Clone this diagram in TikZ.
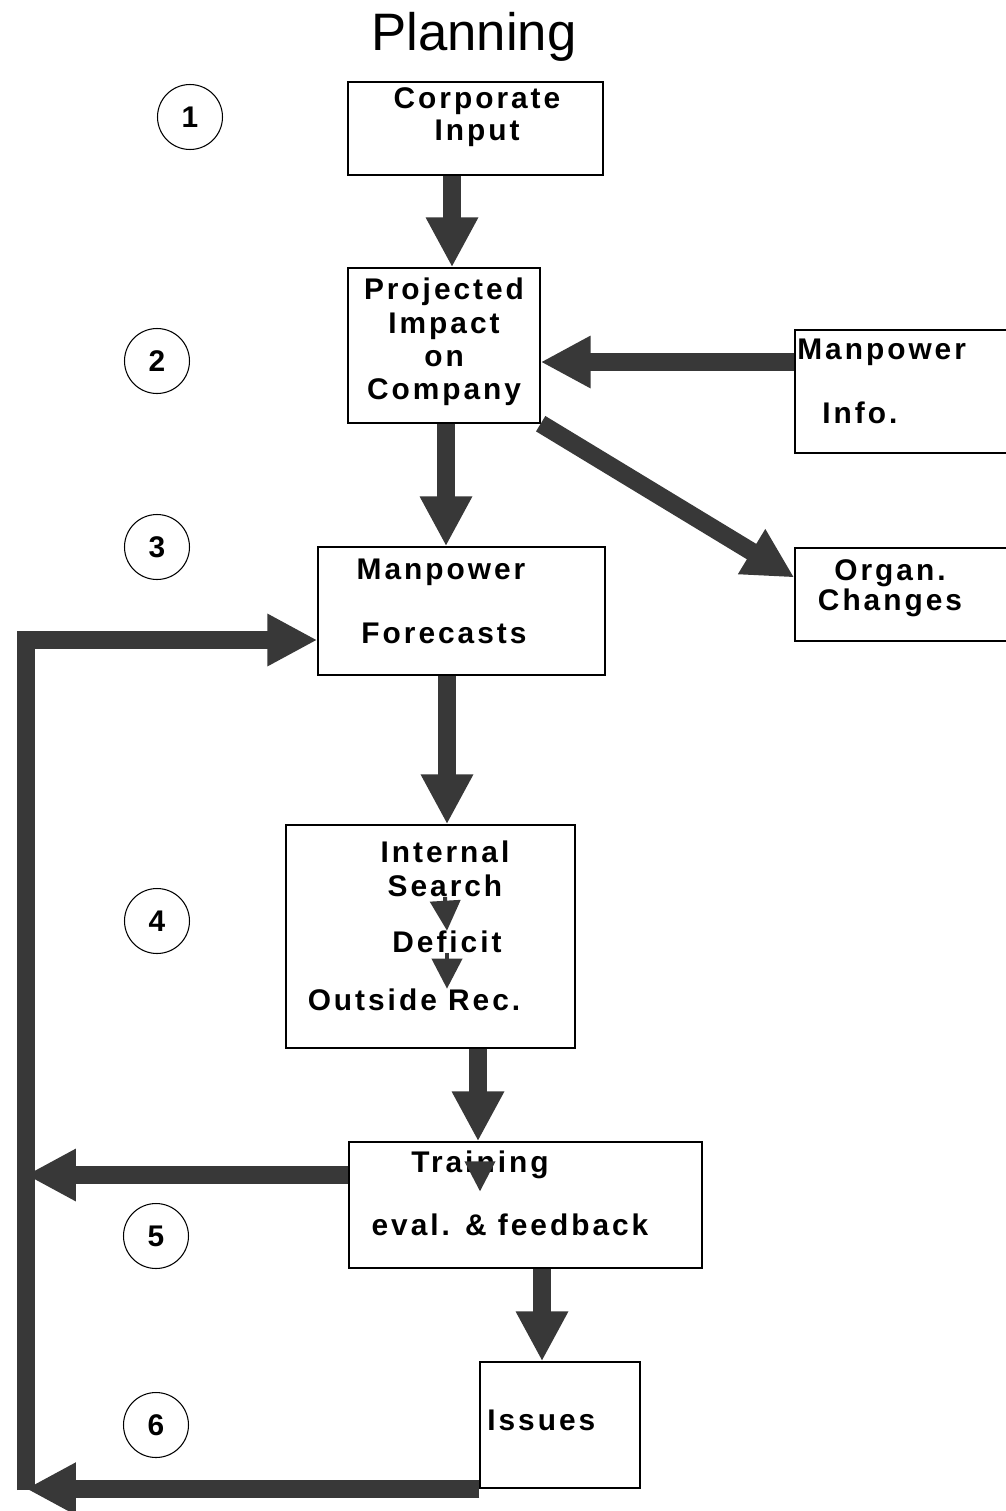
\documentclass[tikz,border=0pt]{standalone}
\usepackage{fontspec}
\setmainfont{Liberation Sans}
\newfontfamily\boxfont[LetterSpace=10]{Liberation Sans}
\usetikzlibrary{arrows.meta}

\begin{document}
\begin{tikzpicture}[x=0.02cm, y=-0.02cm,
  box/.style={draw, line width=0.8pt, rectangle, inner sep=0pt},
  txt/.style={font=\boxfont\bfseries\fontsize{17}{19}\selectfont, inner sep=0pt, align=center},
  num/.style={draw, circle, line width=0.6pt, minimum size=1.3cm, inner sep=0pt, font=\bfseries\fontsize{17}{17}\selectfont},
  fat/.style={line width=0.36cm, draw=black!78, -{Triangle[length=1cm, width=0.98cm]}},
  tip/.style={line width=0.08cm, draw=black!78, -{Triangle[length=0.6cm, width=0.6cm]}}]
\useasboundingbox (0,0) rectangle (1006,1511);
\clip (0,0) rectangle (1006,1511);
\fill[white] (0,0) rectangle (1006,1511);

\node[inner sep=0pt, font=\fontsize{30}{30}\selectfont] (title) at (474,37) {Planning};

% boxes
\node[box, minimum width=5.1cm, minimum height=1.86cm] (corp) at (475.5,128.5) {};
\node[txt] (corpt) at (477,117) {Corporate\\[-1pt]Input};
\node[box, minimum width=3.84cm, minimum height=3.1cm] (proj) at (444,345.5) {};
\node[txt] (projt) at (444,342) {Projected\\Impact\\on\\Company};
\node[box, minimum width=4.7cm, minimum height=2.46cm] (info) at (912.5,391.5) {};
\node[txt, anchor=west] (infot1) at (797,352) {Manpower};
\node[txt, anchor=west] (infot2) at (822,413) {Info.};
\node[box, minimum width=4.7cm, minimum height=1.86cm] (org) at (912.5,594.5) {};
\node[txt] (orgt) at (890,588) {Organ.\\[-2pt]Changes};
\node[box, minimum width=5.74cm, minimum height=2.56cm] (fore) at (461.5,611) {};
\node[txt] (foret1) at (441,572) {Manpower};
\node[txt] (foret2) at (444,633) {Forecasts};
\node[box, minimum width=5.78cm, minimum height=4.46cm] (intl) at (430.5,936.5) {};
\node[txt] (srch) at (445,869) {Internal\\Search};
\node[txt] (defi) at (447,942) {Deficit};
\node[txt] (outs) at (414,1000) {Outside Rec.};
\node[box, minimum width=7.06cm, minimum height=2.52cm] (train) at (525.5,1205) {};
\node[txt] (trn) at (480,1165) {Training};
\node[txt] (evl) at (510,1225) {eval. \& feedback};
\node[box, minimum width=3.2cm, minimum height=2.52cm] (issue) at (560,1425) {};
\node[txt, anchor=west] (isst) at (487,1420) {Issues};

% step numbers
\node[num] (n1) at (190,117) {1};
\node[num] (n2) at (157,361) {2};
\node[num] (n3) at (157,547) {3};
\node[num] (n4) at (157,921) {4};
\node[num] (n5) at (156,1236) {5};
\node[num] (n6) at (156,1425) {6};

% main flow
\draw[fat] ([xshift=0.16cm]proj.north |- corp.south) -- ([xshift=0.16cm]proj.north);
\draw[fat] ([yshift=0.59cm]info.west) -- ([yshift=0.59cm]info.west -| proj.east);
\draw[fat] (proj.south east) -- ([yshift=0.34cm]org.west);
\draw[fat] ([xshift=0.04cm]proj.south) -- ([xshift=0.04cm]proj.south |- fore.north);
\draw[fat] ([xshift=0.33cm]intl.north |- fore.south) -- ([xshift=0.33cm]intl.north);
\draw[fat] ([xshift=-0.95cm]train.north |- intl.south) -- ([xshift=-0.95cm]train.north);
\draw[fat] ([xshift=-0.36cm]issue.north |- train.south) -- ([xshift=-0.36cm]issue.north);

% inner steps
\draw[tip] (srch.south) -- (defi.north);
\draw[tip] (defi.south) -- (outs.north -| defi.south);
\draw[tip] (trn.south) -- ([yshift=-0.24cm]trn.south);

% feedback loop
\coordinate (lt) at (26,640);
\coordinate (lb) at (26,1490);
\draw[fat] ([yshift=0.6cm]train.west) -- ([yshift=0.6cm]train.west -| lt);
\draw[fat] (issue.south west) -- (issue.south west -| lb);
\draw[fat] (lb) -- (lt) -- (lt -| fore.west);
\end{tikzpicture}
\end{document}
